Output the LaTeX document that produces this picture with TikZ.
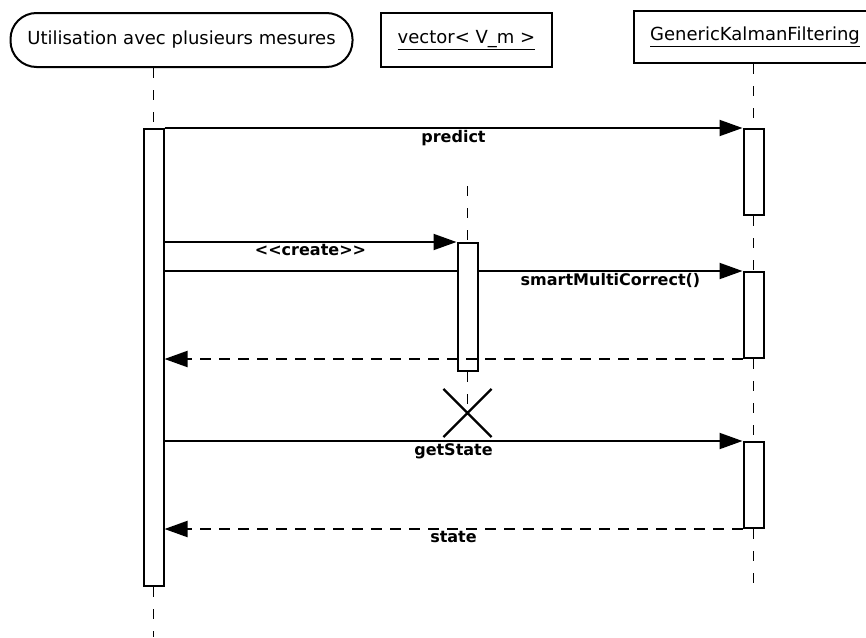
\documentclass[tikz,border=0pt]{standalone}
\usepackage{fontspec}
\setmainfont{DejaVu Sans}
\usetikzlibrary{arrows.meta,shapes.misc,backgrounds}

\begin{document}
\begin{tikzpicture}[x=1pt, y=-1pt,
  head/.style={draw, line width=2pt, minimum height=54pt, inner sep=0pt, font=\fontsize{18}{22}\selectfont},
  act/.style={draw, fill=white, line width=2pt, minimum width=20pt, inner sep=0pt, anchor=north},
  lifeline/.style={line width=1pt, dash pattern=on 10pt off 12pt},
  call/.style={line width=2pt, -{Triangle[length=23pt,width=16pt]}},
  plain/.style={line width=2pt},
  reply/.style={line width=2pt, dash pattern=on 11pt off 8pt, -{Triangle[length=23pt,width=16pt]}},
  lbl/.style={below, inner sep=1.5pt, font=\fontsize{16}{19}\selectfont\bfseries}]

\useasboundingbox (0,0) rectangle (866,637);

% Heads
\node[head, rounded corners=26pt, minimum width=342pt] (usr) at (181.5,40) {Utilisation avec plusieurs mesures};
\node[head, minimum width=171pt] (vec) at (466.5,40) {\underline{vector< V\_m >}};
\node[head, minimum width=242pt, minimum height=52pt, anchor=west] (gkf) at (633,37) {\underline{GenericKalmanFiltering}};

% Activations
\node[act, minimum height=457pt] (a1) at (153.5,128) {};
\node[act, minimum height=86pt] (k1) at (753.5,128) {};
\node[act, minimum height=86pt] (k2) at (753.5,271) {};
\node[act, minimum height=86pt] (k3) at (753.5,441) {};
\node[act, minimum height=128pt] (a2) at (467.5,242) {};

% Destruction
\node[draw, cross out, line width=2.2pt, minimum size=46pt, inner sep=0pt] (kill) at (467.5,413) {};

% Lifeline ends
\coordinate (end1) at (153.5,637);
\coordinate (vtop) at (467.5,186);
\coordinate (end3) at (753.5,585);

% Lifelines
\begin{scope}[on background layer]
\draw[lifeline] (usr.south -| a1) -- (a1.north);
\draw[lifeline] (a1.south) -- (end1);
\draw[lifeline] (vtop) -- (a2.north);
\draw[lifeline] (a2.south) -- (kill.center);
\draw[lifeline] (gkf.south -| k1) -- (k1.north);
\draw[lifeline] (k1.south) -- (k2.north);
\draw[lifeline] (k2.south) -- (k3.north);
\draw[lifeline] (k3.south) -- (end3);
\end{scope}

% Messages
\draw[call] (a1.north east) -- node[lbl] {predict} (k1.north west);
\draw[call] (a1.east |- a2.north) -- node[lbl] {<\kern0pt<create>\kern0pt>} (a2.north west);
\draw[plain] (a1.east |- k2.north) -- (a2.west |- k2.north);
\draw[call] (a2.east |- k2.north) -- node[lbl] {smartMultiCorrect()} (k2.north west);
\draw[reply] (k2.south west) -- (a1.east |- k2.south);
\draw[call] (a1.east |- k3.north) -- node[lbl] {getState} (k3.north west);
\draw[reply] (k3.south west) -- node[lbl] {state} (a1.east |- k3.south);

\end{tikzpicture}
\end{document}
